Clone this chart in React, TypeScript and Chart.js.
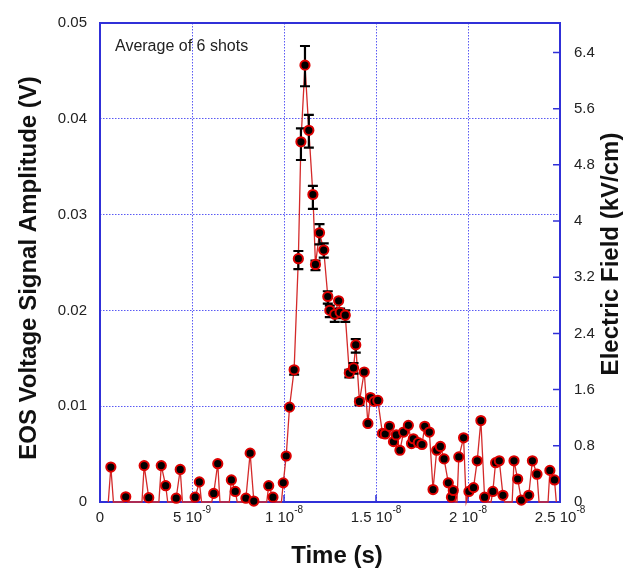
import React, { useEffect, useRef } from "react";
import { Chart, registerables } from "chart.js";
Chart.register(...registerables);

// ---- data (time in ns, signal in V) ----
const markerTime = [
  0.59, 1.4, 2.4, 2.65, 3.33, 3.57, 4.14, 4.36, 5.17, 5.4,
  6.18, 6.4, 7.14, 7.35, 7.93, 8.16, 8.36, 9.17, 9.4, 9.96,
  10.12, 10.3, 10.55, 10.78, 10.92, 11.14, 11.35, 11.57, 11.71, 11.93,
  12.16, 12.38, 12.49, 12.76, 12.97, 13.05, 13.33, 13.55, 13.78, 13.9,
  14.1, 14.36, 14.56, 14.7, 14.9, 15.1, 15.35, 15.5, 15.73, 15.95,
  16.1, 16.3, 16.5, 16.76, 16.93, 17.03, 17.3, 17.5, 17.65, 17.9,
  18.1, 18.3, 18.5, 18.7, 18.93, 19.1, 19.2, 19.5, 19.76, 20.05,
  20.3, 20.5, 20.7, 20.9, 21.35, 21.5, 21.7, 21.9, 22.5, 22.7,
  22.9, 23.3, 23.5, 23.75, 24.45, 24.7,
];
const markerVolt = [
  0.00365, 0.00055, 0.0038, 0.00045, 0.0038, 0.0017, 0.0004, 0.0034, 0.0005, 0.0021,
  0.0009, 0.004, 0.0023, 0.0011, 0.0004, 0.0051, 0.0001, 0.0017, 0.0005, 0.002,
  0.0048, 0.0099, 0.0138, 0.0254, 0.0376, 0.0456, 0.0388, 0.0321, 0.0248, 0.0281,
  0.0263, 0.02145, 0.02, 0.0196, 0.021, 0.0198, 0.0195, 0.01346, 0.014, 0.0164,
  0.0105, 0.01357, 0.0082, 0.0109, 0.0105, 0.0106, 0.00716, 0.0071, 0.0079, 0.0063,
  0.007, 0.0054, 0.0073, 0.008, 0.0061, 0.0066, 0.0062, 0.006, 0.0079, 0.0073,
  0.0013, 0.0054, 0.0058, 0.0045, 0.002, 0.0005, 0.0012, 0.0047, 0.0067, 0.0011,
  0.0015, 0.0043, 0.0085, 0.0005, 0.0011, 0.0041, 0.0043, 0.0007, 0.0043, 0.0024,
  0.0002, 0.0007, 0.0043, 0.0029, 0.0033, 0.0023,
];

// red trace (drops to the baseline between sparse samples)
const traceTime = [
  0.45, 0.59, 0.73, 1.3, 1.4, 1.5, 2.28, 2.4, 2.65, 2.77,
  3.2, 3.33, 3.57, 3.68, 4.03, 4.14, 4.36, 4.48, 5.06, 5.17,
  5.4, 5.52, 6.07, 6.18, 6.4, 6.52, 7.03, 7.14, 7.35, 7.46,
  7.83, 7.93, 8.16, 8.36, 8.47, 9.06, 9.17, 9.4, 9.52, 9.86,
  9.96, 10.12, 10.3, 10.55, 10.78, 10.92, 11.14, 11.35, 11.57, 11.71,
  11.93, 12.16, 12.38, 12.49, 12.76, 12.97, 13.05, 13.33, 13.55, 13.78,
  13.9, 14.1, 14.36, 14.56, 14.7, 14.9, 15.1, 15.35, 15.5, 15.73,
  15.95, 16.1, 16.3, 16.5, 16.76, 16.93, 17.03, 17.3, 17.5, 17.65,
  17.9, 18.1, 18.3, 18.5, 18.7, 18.93, 19.1, 19.2, 19.3, 19.4,
  19.5, 19.76, 19.9, 20.05, 20.3, 20.5, 20.7, 20.9, 21.0, 21.25,
  21.35, 21.5, 21.7, 21.9, 22.0, 22.4, 22.5, 22.7, 22.9, 23.0,
  23.2, 23.3, 23.5, 23.75, 23.86, 24.35, 24.45, 24.7, 24.8,
];
const traceVolt = [
  0, 0.00365, 0, 0, 0.00055, 0, 0, 0.0038, 0.00045, 0,
  0, 0.0038, 0.0017, 0, 0, 0.0004, 0.0034, 0, 0, 0.0005,
  0.0021, 0, 0, 0.0009, 0.004, 0, 0, 0.0023, 0.0011, 0,
  0, 0.0004, 0.0051, 0.0001, 0, 0, 0.0017, 0.0005, 0, 0,
  0.002, 0.0048, 0.0099, 0.0138, 0.0254, 0.0376, 0.0456, 0.0388, 0.0321, 0.0248,
  0.0281, 0.0263, 0.02145, 0.02, 0.0196, 0.021, 0.0198, 0.0195, 0.01346, 0.014,
  0.0164, 0.0105, 0.01357, 0.0082, 0.0109, 0.0105, 0.0106, 0.00716, 0.0071, 0.0079,
  0.0063, 0.007, 0.0054, 0.0073, 0.008, 0.0061, 0.0066, 0.0062, 0.006, 0.0079,
  0.0073, 0.0013, 0.0054, 0.0058, 0.0045, 0.002, 0.0005, 0.0012, 0, 0,
  0.0047, 0.0067, 0, 0.0011, 0.0015, 0.0043, 0.0085, 0.0005, 0, 0,
  0.0011, 0.0041, 0.0043, 0.0007, 0, 0, 0.0043, 0.0024, 0.0002, 0,
  0, 0.0007, 0.0043, 0.0029, 0, 0, 0.0033, 0.0023, 0,
];

// error bars (lower / upper ends, V)
const errorTime = [10.55, 10.78, 10.92, 11.14, 11.35, 11.57, 11.71, 11.93, 12.16, 12.38, 12.49, 12.76, 13.05, 13.33, 13.55, 13.78, 13.9, 14.1];
const errorLow = [0.0133, 0.0243, 0.0357, 0.0434, 0.037, 0.0306, 0.0242, 0.0269, 0.0255, 0.0207, 0.0193, 0.0188, 0.0192, 0.0188, 0.013, 0.0134, 0.0156, 0.0101];
const errorHigh = [0.014, 0.0262, 0.039, 0.0476, 0.0404, 0.033, 0.0252, 0.029, 0.027, 0.022, 0.0205, 0.0202, 0.0202, 0.02, 0.0138, 0.0145, 0.017, 0.0108];

// axes
const xTickValues = [0, 5, 10, 15, 20, 25];
const xTickMantissa = ["0", "5 10", "1 10", "1.5 10", "2 10", "2.5 10"];
const xTickExponent = ["", "-9", "-8", "-8", "-8", "-8"];
const yTickValues = [0, 0.01, 0.02, 0.03, 0.04, 0.05];
const yTickLabels = ["0", "0.01", "0.02", "0.03", "0.04", "0.05"];
const rightTickValues = [0, 0.8, 1.6, 2.4, 3.2, 4, 4.8, 5.6, 6.4];
const rightTickLabels = ["0", "0.8", "1.6", "2.4", "3.2", "4", "4.8", "5.6", "6.4"];
const rightAxisMax = 6.82;

const FONT = "'Liberation Sans', Arial, Helvetica, sans-serif";
const AXIS_COLOR = "#3030d8";
const GRID_COLOR = "#5a5af4";
const TEXT_COLOR = "#222";

export default function App() {
  const ref = useRef<HTMLCanvasElement>(null);

  useEffect(() => {
    const canvas = ref.current;
    if (!canvas) return;

    const decor = {
      id: "decor",
      beforeDatasetsDraw(chart: any) {
        const { ctx, chartArea, scales } = chart;
        const { left, right, top, bottom } = chartArea;
        ctx.save();
        ctx.strokeStyle = AXIS_COLOR;
        ctx.lineWidth = 2;
        ctx.strokeRect(left, top, right - left, bottom - top);
        ctx.lineWidth = 1.5;
        ctx.beginPath();
        rightTickValues.forEach((v) => {
          const y = scales.y2.getPixelForValue(v);
          ctx.moveTo(right, y);
          ctx.lineTo(right - 7, y);
        });
        xTickValues.forEach((v) => {
          const x = scales.x.getPixelForValue(v);
          ctx.moveTo(x, bottom);
          ctx.lineTo(x, bottom - 7);
        });
        ctx.stroke();
        ctx.restore();
      },
      beforeDatasetDraw(chart: any, args: any) {
        if (args.index !== 0) return;
        const { ctx, scales } = chart;
        ctx.save();
        ctx.strokeStyle = "#000";
        ctx.lineWidth = 2.2;
        ctx.beginPath();
        errorTime.forEach((t, i) => {
          const x = scales.x.getPixelForValue(t);
          const y1 = scales.y.getPixelForValue(errorLow[i]);
          const y2 = scales.y.getPixelForValue(errorHigh[i]);
          ctx.moveTo(x, y1);
          ctx.lineTo(x, y2);
          ctx.moveTo(x - 5, y1);
          ctx.lineTo(x + 5, y1);
          ctx.moveTo(x - 5, y2);
          ctx.lineTo(x + 5, y2);
        });
        ctx.stroke();
        ctx.restore();
      },
      afterDraw(chart: any) {
        const { ctx, scales, chartArea } = chart;
        ctx.save();
        // x tick labels with superscript exponents
        ctx.fillStyle = TEXT_COLOR;
        ctx.textBaseline = "alphabetic";
        xTickValues.forEach((v, i) => {
          const x = scales.x.getPixelForValue(v);
          ctx.font = `15px ${FONT}`;
          const mw = ctx.measureText(xTickMantissa[i]).width;
          ctx.font = `10px ${FONT}`;
          const ew = xTickExponent[i] ? ctx.measureText(xTickExponent[i]).width : 0;
          const start = x - (mw + ew) / 2;
          ctx.font = `15px ${FONT}`;
          ctx.textAlign = "left";
          ctx.fillText(xTickMantissa[i], start, 522);
          if (xTickExponent[i]) {
            ctx.font = `10px ${FONT}`;
            ctx.fillText(xTickExponent[i], start + mw, 513);
          }
        });
        // annotation
        ctx.font = `16px ${FONT}`;
        ctx.textAlign = "left";
        ctx.textBaseline = "middle";
        ctx.fillStyle = TEXT_COLOR;
        ctx.fillText("Average of 6 shots", chartArea.left + 15, 47);
        // titles
        ctx.fillStyle = "#111";
        ctx.font = `bold 24px ${FONT}`;
        ctx.textAlign = "center";
        ctx.fillText("Time (s)", 337, 556);
        ctx.save();
        ctx.translate(29, 268);
        ctx.rotate(-Math.PI / 2);
        ctx.fillText("EOS Voltage Signal Amplitude (V)", 0, 0);
        ctx.restore();
        ctx.save();
        ctx.translate(611, 254);
        ctx.rotate(-Math.PI / 2);
        ctx.fillText("Electric Field (kV/cm)", 0, 0);
        ctx.restore();
        ctx.restore();
      },
    };

    const chart = new Chart(canvas, {
      type: "scatter",
      data: {
        datasets: [
          {
            label: "EOS signal",
            data: markerTime.map((t, i) => ({ x: t, y: markerVolt[i] })),
            showLine: false,
            pointRadius: 4.6,
            pointBackgroundColor: "#000",
            pointBorderColor: "#dd0000",
            pointBorderWidth: 2,
            clip: false as any,
          },
          {
            label: "trace",
            data: traceTime.map((t, i) => ({ x: t, y: traceVolt[i] })),
            showLine: true,
            pointRadius: 0,
            borderColor: "#d42a2a",
            borderWidth: 1.3,
            clip: false as any,
          },
        ],
      },
      options: {
        animation: false,
        responsive: false,
        devicePixelRatio: 1,
        layout: { padding: { top: 18, left: 0, right: 0, bottom: 0 } },
        plugins: { legend: { display: false }, tooltip: { enabled: false } },
        scales: {
          x: {
            type: "linear",
            min: 0,
            max: 25,
            afterBuildTicks: (s: any) => {
              s.ticks = xTickValues.map((v) => ({ value: v }));
            },
            afterFit: (s: any) => {
              s.height = 73;
            },
            ticks: { display: false },
            grid: { color: GRID_COLOR, lineWidth: 1, drawTicks: false },
            border: { display: false, dash: [1.5, 1.5] },
          },
          y: {
            type: "linear",
            position: "left",
            min: 0,
            max: 0.05,
            afterBuildTicks: (s: any) => {
              s.ticks = yTickValues.map((v) => ({ value: v }));
            },
            afterFit: (s: any) => {
              s.width = 100;
            },
            ticks: {
              callback: (_v: any, i: number) => yTickLabels[i],
              font: { family: FONT, size: 15 },
              color: TEXT_COLOR,
              padding: 13,
            },
            grid: { color: GRID_COLOR, lineWidth: 1, drawTicks: false },
            border: { display: false, dash: [1.5, 1.5] },
          },
          y2: {
            type: "linear",
            position: "right",
            min: 0,
            max: rightAxisMax,
            afterBuildTicks: (s: any) => {
              s.ticks = rightTickValues.map((v) => ({ value: v }));
            },
            afterFit: (s: any) => {
              s.width = 66;
            },
            ticks: {
              callback: (_v: any, i: number) => rightTickLabels[i],
              font: { family: FONT, size: 15 },
              color: TEXT_COLOR,
              padding: 14,
            },
            grid: { display: false, drawTicks: false },
            border: { display: false },
          },
        },
      },
      plugins: [decor],
    } as any);

    return () => chart.destroy();
  }, []);

  return (
    <div style={{ position: "fixed", left: 0, top: 0, width: 626, height: 575, background: "#fff" }}>
      <canvas ref={ref} width={626} height={575} style={{ width: 626, height: 575 }} />
    </div>
  );
}
